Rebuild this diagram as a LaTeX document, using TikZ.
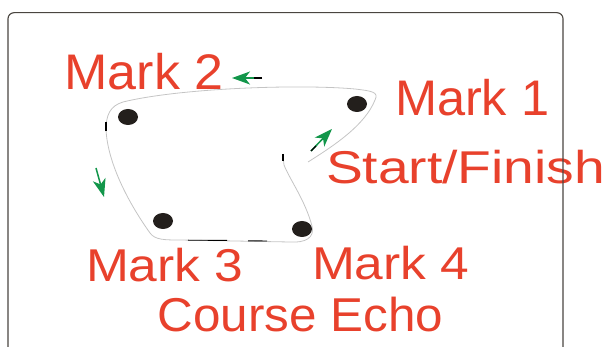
\documentclass[tikz,border=0pt]{standalone}
\usepackage{fontspec}
\usepackage{graphicx}
\setmainfont{Liberation Sans}
\usetikzlibrary{arrows.meta}
\definecolor{lblred}{HTML}{E8412C}
\definecolor{arrgreen}{HTML}{12964A}
\definecolor{dotblk}{HTML}{231F1C}
\definecolor{framegray}{HTML}{4A4540}
\definecolor{coursegray}{HTML}{C4C4C4}
\tikzset{
  lbl/.style={anchor=base west, inner sep=0pt, outer sep=0pt, text=lblred},
  markdot/.style={fill=dotblk, draw=none},
  course/.style={draw=coursegray, line width=0.8pt},
  tick/.style={draw=black, line width=1.1pt},
  dirarrow/.style={draw=arrgreen, line width=1.5pt, -{Stealth[length=18pt,width=13pt,inset=5pt]}, fill=arrgreen}
}
\begin{document}
\begin{tikzpicture}[x=1pt,y=-1pt]
\useasboundingbox (0,0) rectangle (603,347);
% labels
\node[lbl] (m2) at (64.5,90) {\scalebox{1.04}[1]{\fontsize{50}{60}\selectfont Mark 2}};
\node[lbl] (m1) at (395,116) {\scalebox{1.01}[1]{\fontsize{50}{60}\selectfont Mark 1}};
\node[lbl] (sf) at (326,184) {\scalebox{1.2}[1]{\fontsize{46}{55}\selectfont Start/Finish}};
\node[lbl] (m3) at (86,282) {\scalebox{1.12}[1]{\fontsize{46}{55}\selectfont Mark 3}};
\node[lbl] (m4) at (312,280) {\scalebox{1.12}[1]{\fontsize{46}{55}\selectfont Mark 4}};
\node[lbl] (ce) at (157.5,332) {\scalebox{1.04}[1]{\fontsize{47.5}{57}\selectfont Course Echo}};
% course
\path[course] (308,162) .. controls (335,145) and (365,125) .. (375,100)
  .. controls (379,92) and (372,91) .. (355,89)
  .. controls (300,84) and (180,88) .. (123,102)
  .. controls (110,106) and (106,115) .. (106,130)
  .. controls (108,165) and (130,205) .. (150,233)
  .. controls (155,240) and (165,240) .. (180,240)
  -- (290,242)
  .. controls (305,243) and (315,238) .. (312,226)
  .. controls (305,200) and (290,180) .. (284,165)
  -- (283,156);
\draw[tick] (283,154) -- (283,161);
\draw[tick] (106,122) -- (106,131);
\draw[tick, line width=0.9pt] (188,240.2) -- (227,240.4);
\draw[tick, line width=0.9pt] (248,240.8) -- (267,241);
% dots
\fill[markdot] (357,104) ellipse [x radius=10, y radius=8];
\fill[markdot] (128,117) ellipse [x radius=10, y radius=8];
\fill[markdot] (163,221) ellipse [x radius=10, y radius=8];
\fill[markdot] (302,229) ellipse [x radius=10, y radius=8];
% arrows
\coordinate (a1s) at (262,78);
\coordinate (a1m) at (250,78);
\coordinate (a1t) at (232,78);
\draw[black, line width=1.4pt] (a1s) -- (a1m);
\draw[dirarrow] (254,78) -- (a1t);
\coordinate (a2s) at (96,168);
\coordinate (a2t) at (104,197);
\draw[dirarrow] (a2s) -- (a2t);
\coordinate (a3s) at (311,151);
\coordinate (a3m) at (316,146);
\coordinate (a3t) at (332,129);
\draw[dirarrow] (a3s) -- (a3t);
\draw[black, line width=1.3pt] (a3s) -- (a3m);
% frame
\draw[framegray, line width=1.1pt, rounded corners=6pt] (8,348) -- (8,12.7) -- (563,12.7) -- (563,348);
\end{tikzpicture}
\end{document}
